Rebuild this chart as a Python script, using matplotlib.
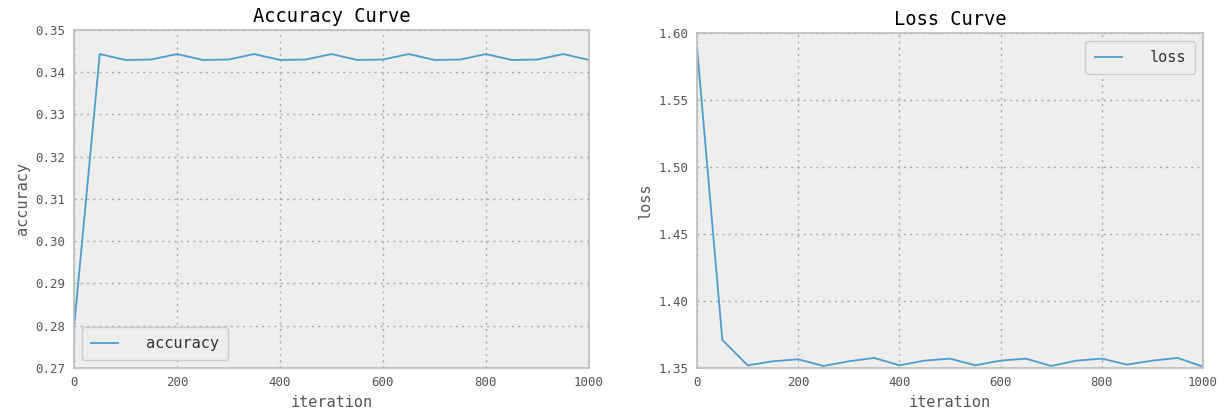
import matplotlib
matplotlib.use("Agg")
import matplotlib.pyplot as plt

iterations = [0, 50, 100, 150, 200, 250, 300, 350, 400, 450, 500,
              550, 600, 650, 700, 750, 800, 850, 900, 950, 1000]
accuracy = [0.2795, 0.3443, 0.3429, 0.3430, 0.3443, 0.3429, 0.3430, 0.3443,
            0.3429, 0.3430, 0.3443, 0.3429, 0.3430, 0.3443, 0.3429, 0.3430,
            0.3443, 0.3429, 0.3430, 0.3443, 0.3429]
loss = [1.589, 1.371, 1.352, 1.355, 1.3565, 1.3515, 1.355, 1.3575, 1.352,
        1.3555, 1.357, 1.352, 1.3555, 1.357, 1.3515, 1.3555, 1.357, 1.3525,
        1.3555, 1.3575, 1.351]

plt.rcParams['font.family'] = ['DejaVu Sans Mono']
line_color = '#4f9bcf'

fig = plt.figure(figsize=(12.25, 4.15), dpi=100)
ax1 = fig.add_axes([0.0604, 0.1133, 0.4204, 0.8145])
ax2 = fig.add_axes([0.569, 0.1133, 0.413, 0.807])

def style(ax):
    ax.set_facecolor('#eeeeee')
    for s in ax.spines.values():
        s.set_color('#bcbcbc')
        s.set_linewidth(1.2)
    ax.grid(True, linestyle=(0, (1.5, 3)), color='#a8a8a8', linewidth=1.0)
    ax.set_axisbelow(True)
    ax.tick_params(length=0, labelsize=9, labelcolor='#555555', pad=6)

def legend(ax, loc):
    leg = ax.legend(loc=loc, fontsize=11, facecolor='#eeeeee', edgecolor='#cccccc',
                    framealpha=1.0, fancybox=True, borderpad=0.6,
                    handlelength=1.8, handletextpad=1.8)
    for t in leg.get_texts():
        t.set_color('#333333')
    return leg

style(ax1)
ax1.plot(iterations, accuracy, color=line_color, linewidth=1.3, label='accuracy')
ax1.set_xlim(0, 1000)
ax1.set_ylim(0.27, 0.35)
ax1.set_yticks([0.27, 0.28, 0.29, 0.30, 0.31, 0.32, 0.33, 0.34, 0.35])
ax1.set_xticks([0, 200, 400, 600, 800, 1000])
ax1.set_title('Accuracy Curve', fontsize=13.5, pad=6)
ax1.set_xlabel('iteration', fontsize=11, color='#555555')
ax1.set_ylabel('accuracy', fontsize=11, color='#555555')
legend(ax1, 'lower left')

style(ax2)
ax2.plot(iterations, loss, color=line_color, linewidth=1.3, label='loss')
ax2.set_xlim(0, 1000)
ax2.set_ylim(1.35, 1.60)
ax2.set_yticks([1.35, 1.40, 1.45, 1.50, 1.55, 1.60])
ax2.set_xticks([0, 200, 400, 600, 800, 1000])
ax2.set_title('Loss Curve', fontsize=13.5, pad=6)
ax2.set_xlabel('iteration', fontsize=11, color='#555555')
ax2.set_ylabel('loss', fontsize=11, color='#555555')
legend(ax2, 'upper right')

fig.savefig('out.png', dpi=100)
